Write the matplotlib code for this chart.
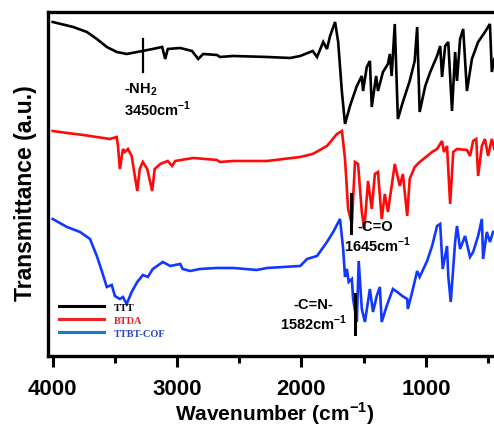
"""FTIR spectra of TTT, BTDA and TTBT-COF."""

import matplotlib

matplotlib.use("Agg")
import matplotlib.pyplot as plt
from matplotlib.lines import Line2D

plt.rcParams["font.family"] = ["Liberation Sans", "DejaVu Sans"]
plt.rcParams["mathtext.fontset"] = "custom"
plt.rcParams["mathtext.rm"] = "Liberation Sans"
plt.rcParams["mathtext.bf"] = "Liberation Sans:bold"
plt.rcParams["axes.unicode_minus"] = False

# wavenumber (cm-1) and transmittance (a.u., stacked offsets)
ttt_wn = [4000, 3835, 3725, 3645, 3565, 3485, 3405, 3320, 3195, 3120, 3095, 3075,
          2975, 2880, 2830, 2790, 2680, 2655, 2550, 2275, 2090, 2010, 1910, 1875,
          1825, 1795, 1770, 1730, 1705, 1675, 1650, 1610, 1555, 1515, 1505, 1475,
          1450, 1435, 1400, 1385, 1345, 1305, 1290, 1275, 1250, 1225, 1185, 1130,
          1090, 1070, 1050, 1005, 965, 910, 885, 870, 845, 820, 790, 765, 750,
          725, 700, 670, 630, 580, 525, 485, 470, 450]
ttt_t = [334, 329, 324, 317, 309, 304, 302, 304, 307, 309, 297, 307,
         308, 305, 297, 302, 301, 299, 300, 299, 298, 300, 305, 299,
         314, 307, 320, 334, 314, 264, 232, 250, 270, 280, 265, 289,
         295, 249, 280, 265, 284, 292, 302, 280, 332, 237, 254, 275,
         295, 329, 244, 270, 284, 300, 310, 279, 310, 314, 245, 304, 275,
         317, 327, 265, 297, 314, 324, 332, 284, 297]

btda_wn = [4000, 3885, 3755, 3540, 3485, 3475, 3460, 3435, 3420, 3395, 3365, 3320,
           3300, 3275, 3240, 3200, 3180, 3135, 3075, 3040, 3015, 2870, 2680, 2655,
           2550, 2275, 2010, 1910, 1795, 1715, 1675, 1650, 1625, 1595, 1570, 1545,
           1515, 1495, 1465, 1435, 1410, 1385, 1355, 1330, 1305, 1275, 1250, 1210,
           1185, 1150, 1130, 1090, 1050, 990, 950, 910, 870, 855, 830, 805, 780,
           750, 670, 645, 620, 595, 580, 550, 525, 500, 470, 450]
btda_t = [225, 223, 221, 217, 219, 210, 187, 207, 204, 207, 200, 165,
          187, 194, 187, 165, 187, 192, 195, 190, 195, 198, 196, 194,
          195, 195, 199, 202, 210, 222, 225, 197, 147, 132, 194, 192,
          144, 127, 175, 147, 182, 184, 137, 162, 144, 170, 192, 170,
          182, 140, 177, 189, 194, 200, 204, 207, 215, 204, 210, 152, 204,
          207, 206, 200, 215, 217, 180, 210, 217, 200, 217, 207]

cof_wn = [4000, 3885, 3780, 3700, 3645, 3605, 3565, 3525, 3500, 3460, 3435, 3405,
          3365, 3320, 3275, 3235, 3195, 3115, 3055, 2975, 2955, 2895, 2815, 2680,
          2550, 2360, 2275, 2010, 1955, 1875, 1795, 1745, 1690, 1665, 1650, 1635,
          1620, 1595, 1585, 1555, 1540, 1515, 1490, 1450, 1425, 1395, 1370, 1355,
          1315, 1265, 1230, 1190, 1150, 1145, 1110, 1070, 1050, 990, 950, 910,
          885, 865, 830, 820, 800, 765, 750, 725, 685, 645, 620, 580, 550, 540,
          510, 485, 460]
cof_t = [137, 129, 124, 117, 100, 85, 69, 71, 60, 57, 59, 52,
         64, 74, 81, 79, 87, 94, 90, 92, 87, 85, 87, 88,
         88, 86, 88, 90, 97, 100, 114, 124, 137, 107, 79, 87,
         74, 77, 57, 34, 95, 47, 34, 67, 44, 60, 69, 34,
         50, 67, 64, 60, 57, 47, 64, 85, 79, 95, 110, 130,
         132, 87, 110, 80, 54, 114, 130, 107, 120, 99, 104, 120, 137, 97,
         124, 114, 124]

series = [
    ("TTT", ttt_wn, ttt_t, "black", "black", "black"),
    ("BTDA", btda_wn, btda_t, "#ff0a0a", "#ee2424", "#e8202a"),
    ("TTBT-COF", cof_wn, cof_t, "#1238ff", "#1f78c8", "#2a48c8"),
]

fig = plt.figure(figsize=(4.94, 4.27), dpi=100)
ax = fig.add_axes([0.0978, 0.164, 0.9154, 0.8056])

for name, wn, t, color, _, _ in series:
    ax.plot(wn, t, color=color, lw=1.9, solid_joinstyle="miter")

# peak markers and labels
ax.plot([3275, 3275], [284, 317], color="black", lw=1.6)
ax.plot([1600, 1600], [123, 162], color="black", lw=2.2)
ax.plot([1570, 1570], [22, 62], color="black", lw=2.2)

note = dict(fontsize=10.5, fontweight="bold", va="center")
ax.text(3425, 267, "-NH$_\\mathbf{2}$", ha="left", **note)
ax.text(3425, 248, "3450cm$^{\\mathbf{-1}}$", ha="left", **note)
ax.text(1405, 130, "-C=O", ha="center", **note)
ax.text(1655, 112, "1645cm$^{\\mathbf{-1}}$", ha="left", **note)
ax.text(1745, 52, "-C=N-", ha="right", **note)
ax.text(1630, 34, "1582cm$^{\\mathbf{-1}}$", ha="right", **note)

handles = [Line2D([], [], color=lc, lw=2.2) for _, _, _, _, lc, _ in series]
leg = ax.legend(handles, [s[0] for s in series], loc="lower left",
                bbox_to_anchor=(0.004, 0.025), frameon=False, handlelength=4.3,
                handletextpad=0.9, labelspacing=0.35,
                prop={"family": "Liberation Serif", "weight": "bold", "size": 7.5})
for txt, s in zip(leg.get_texts(), series):
    txt.set_color(s[5])

ax.set_xlim(4035, 400)
ax.set_ylim(0, 344)
ax.set_xticks([4000, 3000, 2000, 1000])
ax.set_xticks([3500, 2500, 1500, 500], minor=True)
ax.set_yticks([])
ax.tick_params(axis="x", which="major", direction="out", length=8, width=2.2,
               pad=8, labelsize=16)
ax.tick_params(axis="x", which="minor", direction="out", length=5, width=2.2)
for lbl in ax.get_xticklabels():
    lbl.set_fontweight("bold")
for spine in ax.spines.values():
    spine.set_linewidth(2.4)

ax.set_xlabel("Wavenumber (cm$^{\\mathbf{-1}}$)", fontsize=15, fontweight="bold",
              labelpad=0)
ax.set_ylabel("Transmittance (a.u.)", fontsize=16.5, fontweight="bold")
ax.yaxis.set_label_coords(-0.025, 0.477)

fig.savefig("out.png", dpi=100)
